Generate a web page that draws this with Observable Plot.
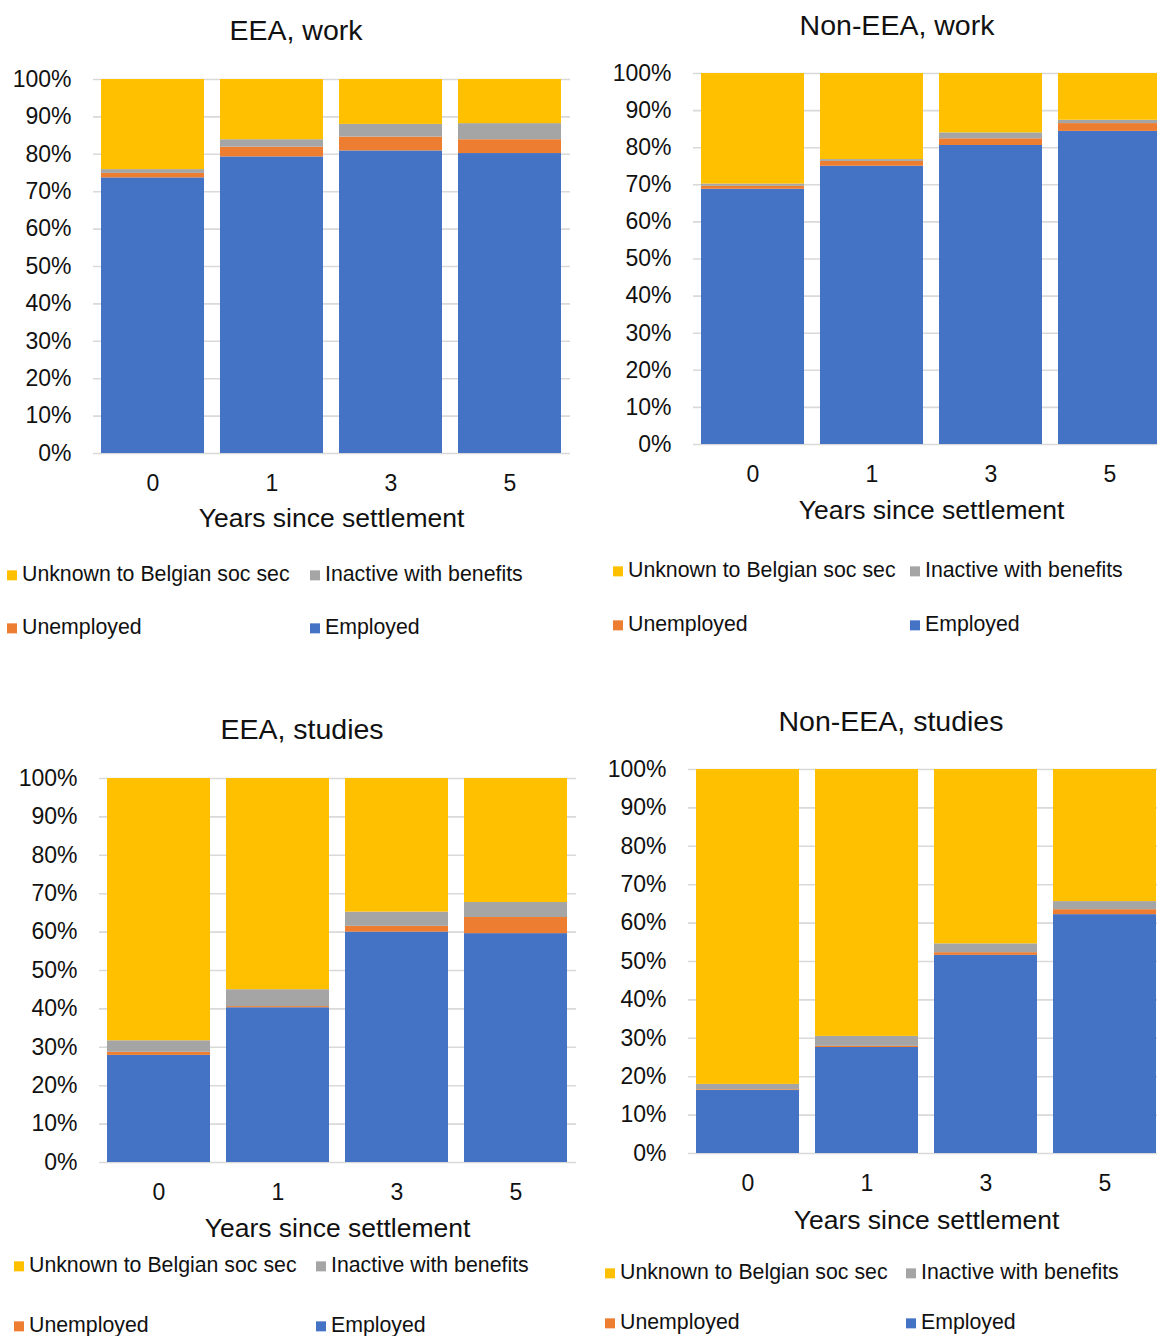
<!DOCTYPE html>
<html>
<head>
<meta charset="utf-8">
<script src="https://cdn.jsdelivr.net/npm/d3@7"></script>
<script src="https://cdn.jsdelivr.net/npm/@observablehq/plot@0.6"></script>
<style>
  html, body { margin: 0; padding: 0; overflow: hidden; background: #fff; }
  body { position: relative; width: 1157px; height: 1336px; font-family: "Liberation Sans", Arial, sans-serif; color: #111; }
  .abs { position: absolute; }
  .title { font-size: 28.5px; white-space: nowrap; transform: translate(-50%, -50%); line-height: 1; }
  .xlabel { font-size: 26.5px; white-space: nowrap; transform: translate(-50%, -50%); line-height: 1; }
  .leg { font-size: 21.3px; white-space: nowrap; transform: translateY(-50%); line-height: 1; display: flex; align-items: center; }
  .sw { width: 10px; height: 10px; display: inline-block; margin-right: 5px; }
  .plotwrap svg { max-width: none !important; overflow: visible; background: transparent; }
</style>
</head>
<body>
<script>
// ---- data ----
const years = ["0", "1", "3", "5"];
const categories = ["Employed", "Unemployed", "Inactive with benefits", "Unknown to Belgian soc sec"];
const colors = ["#4472C4", "#ED7D31", "#A5A5A5", "#FFC000"];
const yTicks = [0, 10, 20, 30, 40, 50, 60, 70, 80, 90, 100];

const eeaWorkEmployed   = [73.7, 79.3, 80.9, 80.2];
const eeaWorkUnemployed = [1.2, 2.6, 3.7, 3.7];
const eeaWorkInactive   = [1.0, 2.0, 3.4, 4.3];
const eeaWorkUnknown    = [24.1, 16.1, 12.0, 11.8];

const nonEeaWorkEmployed   = [68.8, 75.0, 80.6, 84.4];
const nonEeaWorkUnemployed = [0.8, 1.3, 1.8, 2.1];
const nonEeaWorkInactive   = [0.6, 0.5, 1.6, 0.9];
const nonEeaWorkUnknown    = [29.8, 23.2, 16.0, 12.6];

const eeaStudiesEmployed   = [27.9, 40.3, 60.0, 59.6];
const eeaStudiesUnemployed = [0.8, 0.3, 1.5, 4.2];
const eeaStudiesInactive   = [3.0, 4.4, 3.7, 3.9];
const eeaStudiesUnknown    = [68.3, 55.0, 34.8, 32.3];

const nonEeaStudiesEmployed   = [16.4, 27.6, 51.6, 62.2];
const nonEeaStudiesUnemployed = [0.2, 0.3, 0.7, 1.3];
const nonEeaStudiesInactive   = [1.4, 2.6, 2.3, 2.1];
const nonEeaStudiesUnknown    = [82.0, 69.5, 45.4, 34.4];

const panelTitles = ["EEA, work", "Non-EEA, work", "EEA, studies", "Non-EEA, studies"];
const xAxisLabel = "Years since settlement";
const legendRows = [["Unknown to Belgian soc sec", "Inactive with benefits"], ["Unemployed", "Employed"]];

const panelSeries = [
  [eeaWorkEmployed, eeaWorkUnemployed, eeaWorkInactive, eeaWorkUnknown],
  [nonEeaWorkEmployed, nonEeaWorkUnemployed, nonEeaWorkInactive, nonEeaWorkUnknown],
  [eeaStudiesEmployed, eeaStudiesUnemployed, eeaStudiesInactive, eeaStudiesUnknown],
  [nonEeaStudiesEmployed, nonEeaStudiesUnemployed, nonEeaStudiesInactive, nonEeaStudiesUnknown]
];

// ---- layout ----
const layouts = [
  {left: 0,   top: 0,   width: 580, height: 540, ml: 93,  mr: 10, mt: 79, mb: 87,
   tx: 296, ty: 30, lx: 331.5, ly: 518, rows: [575, 628], cols: [7, 310]},
  {left: 580, top: 0,   width: 590, height: 530, ml: 113, mr: 0,  mt: 73, mb: 86,
   tx: 897, ty: 25, lx: 931.5, ly: 510, rows: [571, 625], cols: [613, 910]},
  {left: 0,   top: 700, width: 590, height: 540, ml: 99,  mr: 14, mt: 78, mb: 78,
   tx: 302, ty: 729, lx: 337.5, ly: 1228, rows: [1266, 1326], cols: [14, 316]},
  {left: 580, top: 700, width: 590, height: 530, ml: 108, mr: 5,  mt: 69, mb: 77,
   tx: 891, ty: 721, lx: 926.5, ly: 1220, rows: [1273, 1323], cols: [605, 906]}
];

function addDiv(cls, x, y, html) {
  const d = document.createElement("div");
  d.className = "abs " + cls;
  d.style.left = x + "px";
  d.style.top = y + "px";
  d.innerHTML = html;
  document.body.appendChild(d);
  return d;
}

panelSeries.forEach((series, p) => {
  const L = layouts[p];
  const rows = [];
  series.forEach((vals, c) => vals.forEach((v, i) => rows.push({year: years[i], cat: categories[c], value: v})));

  const chart = Plot.plot({
    width: L.width,
    height: L.height,
    marginLeft: L.ml,
    marginRight: L.mr,
    marginTop: L.mt,
    marginBottom: L.mb,
    style: {fontFamily: "'Liberation Sans', Arial, sans-serif", fontSize: "23px", color: "#111", background: "transparent", overflow: "visible"},
    x: {domain: years, paddingInner: 0.132, paddingOuter: 0.066},
    y: {domain: [0, 100]},
    color: {domain: categories, range: colors},
    marks: [
      Plot.ruleY(yTicks, {stroke: "#d9d9d9", strokeWidth: 1.6}),
      Plot.barY(rows, Plot.stackY({x: "year", y: "value", fill: "cat", order: categories})),
      Plot.axisY({ticks: yTicks, tickFormat: d => d + "%", tickSize: 0, tickPadding: 22, label: null, fontSize: 23}),
      Plot.axisX({tickSize: 0, tickPadding: 21, label: null, fontSize: 23})
    ]
  });
  const wrap = document.createElement("div");
  wrap.className = "abs plotwrap";
  wrap.style.left = L.left + "px";
  wrap.style.top = L.top + "px";
  wrap.style.width = L.width + "px";
  wrap.appendChild(chart);
  document.body.appendChild(wrap);

  addDiv("title", L.tx, L.ty, panelTitles[p]);
  addDiv("xlabel", L.lx, L.ly, xAxisLabel);
  legendRows.forEach((row, r) => {
    row.forEach((name, k) => {
      const col = colors[categories.indexOf(name)];
      addDiv("leg", L.cols[k], L.rows[r], `<span class="sw" style="background:${col}"></span>${name}`);
    });
  });
});
</script>
</body>
</html>
